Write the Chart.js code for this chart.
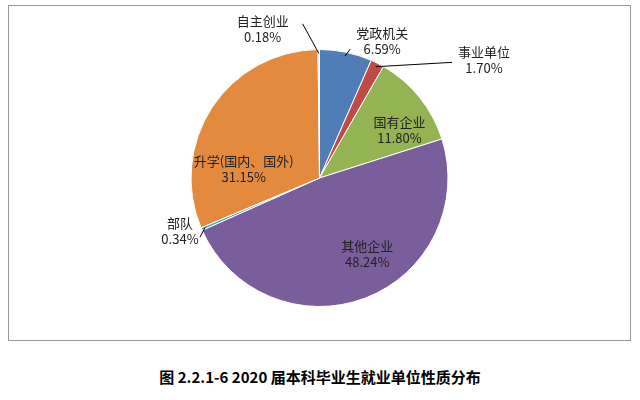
<!DOCTYPE html>
<html><head><meta charset="utf-8">
<script src="https://cdn.jsdelivr.net/npm/chart.js@4"></script>
<style>
body{margin:0;background:#fff;font-family:"Noto Sans CJK SC",sans-serif;}
#frame{position:absolute;left:8px;top:5px;width:621px;height:334px;border:1px solid #999;}
#title{position:absolute;left:0;top:366px;width:640px;text-align:center;font-weight:bold;font-size:15px;color:#000;}
</style></head>
<body>
<div id="frame"><canvas id="pie" width="621" height="334"></canvas></div>
<div id="title">图 2.2.1-6 2020 届本科毕业生就业单位性质分布</div>
<script>
// categories in clockwise order from 12 o'clock
const categories = ['党政机关', '事业单位', '国有企业', '其他企业', '部队', '升学(国内、国外)', '自主创业'];
const shares = [6.59, 1.70, 11.80, 48.24, 0.34, 31.15, 0.18];
const colors = ['#4F7DB8', '#BE4B48', '#94B454', '#7A5E9C', '#45A6C2', '#E38A3E', '#A9C0DD'];

// label placement: inside or outside, nudge from the anchor, and leader line end (relative to label)
const labelStyle = [
  {out: true, dx: 31, dy: 14, line: [-32, 8]},
  {out: true, dx: 95, dy: 20, line: [-32, 2]},
  {out: false, dx: 15, dy: 5},
  {out: false, dx: 18, dy: -2},
  {out: true, dx: 2, dy: -8, line: [20, 6]},
  {out: false, dx: -6, dy: 37},
  {out: true, dx: -56, dy: 5, line: [40, -5]}
];

const labelPlugin = {
  id: 'labels',
  afterDatasetsDraw(chart) {
    const ctx = chart.ctx;
    const arcs = chart.getDatasetMeta(0).data;
    ctx.save();
    ctx.font = '13px "Noto Sans CJK SC", sans-serif';
    ctx.fillStyle = '#222';
    ctx.textAlign = 'center';
    ctx.textBaseline = 'middle';
    arcs.forEach((arc, i) => {
      const mid = (arc.startAngle + arc.endAngle) / 2;
      const r = arc.outerRadius;
      const s = labelStyle[i];
      const k = s.out ? 1.2 : 0.65;
      const x = arc.x + Math.cos(mid) * r * k + s.dx;
      const y = arc.y + Math.sin(mid) * r * k + s.dy;
      if (s.out) {
        ctx.strokeStyle = '#000';
        ctx.lineWidth = 1;
        ctx.beginPath();
        ctx.moveTo(arc.x + Math.cos(mid) * r * 0.97, arc.y + Math.sin(mid) * r * 0.97);
        ctx.lineTo(x + s.line[0], y + s.line[1]);
        ctx.stroke();
      }
      ctx.fillText(categories[i], x, y - 8);
      ctx.fillText(shares[i].toFixed(2) + '%', x, y + 8);
    });
    ctx.restore();
  }
};

new Chart(document.getElementById('pie').getContext('2d'), {
  type: 'pie',
  data: {
    labels: categories,
    datasets: [{data: shares, backgroundColor: colors, borderColor: '#fff', borderWidth: 1}]
  },
  options: {
    responsive: false,
    animation: false,
    layout: {padding: {top: 43, bottom: 33}},
    plugins: {legend: {display: false}, tooltip: {enabled: false}}
  },
  plugins: [labelPlugin]
});
</script>
</body></html>
